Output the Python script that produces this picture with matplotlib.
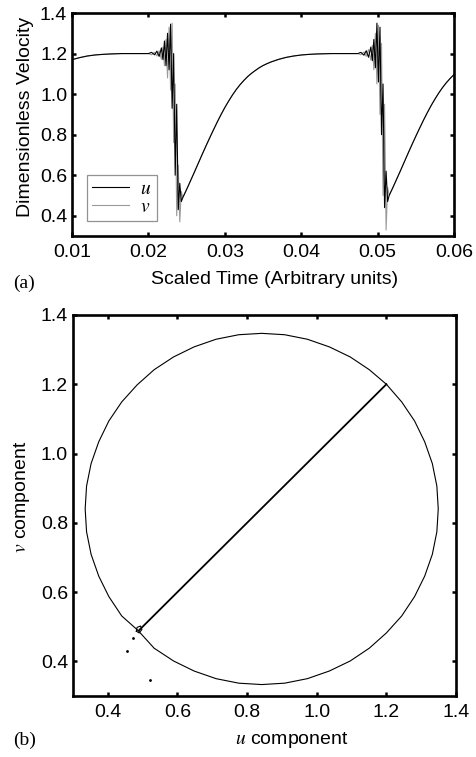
import numpy as np
import matplotlib.pyplot as plt

plt.rcParams['font.family'] = ['Liberation Sans', 'DejaVu Sans']
plt.rcParams['mathtext.fontset'] = 'stix'

# (a) velocity time series, u = v outside the bursts
t_start = [0.0100, 0.0110, 0.0120, 0.0130, 0.0140, 0.0150, 0.0165, 0.0180, 0.0195]
y_start = [1.170, 1.180, 1.188, 1.193, 1.196, 1.198, 1.200, 1.200, 1.200]

t_osc1 = [0.0200, 0.0204, 0.0208, 0.0211, 0.0214, 0.0217, 0.0219, 0.0221, 0.0223, 0.0225,
          0.0227, 0.0229, 0.0231, 0.0233, 0.0235, 0.0237, 0.0239, 0.0241, 0.0243]
u_osc1 = [1.200, 1.206, 1.194, 1.212, 1.186, 1.228, 1.170, 1.262, 1.140, 1.300,
          1.120, 1.345, 0.930, 1.200, 0.600, 0.950, 0.430, 0.560, 0.470]
v_osc1 = [1.200, 1.194, 1.206, 1.188, 1.214, 1.172, 1.232, 1.140, 1.270, 1.080,
          1.330, 1.020, 1.350, 0.760, 1.050, 0.400, 0.650, 0.370, 0.520]

t_rise1 = [0.0245, 0.0250, 0.0255, 0.0260, 0.0265, 0.0270, 0.0275, 0.0280, 0.0285,
           0.0290, 0.0295, 0.0300, 0.0305, 0.0310, 0.0315, 0.0320, 0.0325, 0.0330,
           0.0335, 0.0340, 0.0345, 0.0350, 0.0355, 0.0360, 0.0370, 0.0380, 0.0390,
           0.0400, 0.0410, 0.0420, 0.0440, 0.0472]
y_rise1 = [0.490, 0.530, 0.572, 0.614, 0.657, 0.700, 0.742, 0.783, 0.823,
           0.862, 0.899, 0.934, 0.966, 0.996, 1.023, 1.047, 1.068, 1.087,
           1.103, 1.117, 1.130, 1.141, 1.150, 1.158, 1.171, 1.181, 1.188,
           1.193, 1.196, 1.198, 1.200, 1.200]

t_osc2 = [0.0474, 0.0478, 0.0482, 0.0485, 0.0488, 0.0491, 0.0493, 0.0495, 0.0497,
          0.0499, 0.0501, 0.0503, 0.0505, 0.0507, 0.0509, 0.0511, 0.0513]
u_osc2 = [1.200, 1.206, 1.192, 1.214, 1.182, 1.232, 1.165, 1.270, 1.130,
          1.350, 1.060, 1.330, 0.800, 1.050, 0.440, 0.620, 0.470]
v_osc2 = [1.200, 1.194, 1.208, 1.186, 1.220, 1.168, 1.240, 1.120, 1.300,
          1.050, 1.340, 0.900, 1.250, 0.500, 0.950, 0.330, 0.540]

t_rise2 = [0.0515, 0.0520, 0.0525, 0.0530, 0.0535, 0.0540, 0.0545, 0.0550, 0.0555,
           0.0560, 0.0565, 0.0570, 0.0575, 0.0580, 0.0585, 0.0590, 0.0595, 0.0600]
y_rise2 = [0.500, 0.540, 0.582, 0.624, 0.667, 0.710, 0.752, 0.793, 0.833,
           0.872, 0.909, 0.944, 0.976, 1.006, 1.033, 1.057, 1.078, 1.097]

# (b) phase portrait, v against u
upper_u = [1.200, 1.151, 1.096, 1.036, 0.973, 0.908, 0.842, 0.776, 0.711, 0.648,
           0.589, 0.533, 0.484, 0.440, 0.403, 0.374, 0.352, 0.339, 0.335, 0.339,
           0.352, 0.374, 0.403, 0.440, 0.487]
upper_v = [1.200, 1.242, 1.279, 1.308, 1.330, 1.343, 1.347, 1.343, 1.330, 1.308,
           1.279, 1.242, 1.198, 1.149, 1.094, 1.034, 0.971, 0.906, 0.840, 0.774,
           0.709, 0.646, 0.587, 0.531, 0.489]
lower_u = [1.200, 1.244, 1.281, 1.310, 1.332, 1.345, 1.349, 1.345, 1.332, 1.310,
           1.281, 1.244, 1.200, 1.151, 1.096, 1.036, 0.973, 0.908, 0.842, 0.776,
           0.711, 0.648, 0.589, 0.533, 0.487]
lower_v = [1.200, 1.149, 1.094, 1.034, 0.971, 0.906, 0.840, 0.774, 0.709, 0.646,
           0.587, 0.531, 0.482, 0.438, 0.401, 0.372, 0.350, 0.337, 0.333, 0.337,
           0.350, 0.372, 0.401, 0.438, 0.489]
diag_u = [0.490, 1.200]
diag_v = [0.490, 1.200]
small_u = [0.482, 0.490, 0.498, 0.494, 0.484, 0.482]
small_v = [0.487, 0.482, 0.492, 0.502, 0.498, 0.487]
dots_u = [0.472, 0.456, 0.520]
dots_v = [0.467, 0.430, 0.345]

t_ticks = [0.01, 0.02, 0.03, 0.04, 0.05, 0.06]
vel_ticks = [0.4, 0.6, 0.8, 1.0, 1.2, 1.4]


def style_axes(ax):
    for s in ax.spines.values():
        s.set_linewidth(1.9)
    ax.tick_params(direction='in', top=True, right=True, length=3, width=1.8,
                   labelsize=14)
    ax.tick_params(axis='x', pad=6)
    ax.tick_params(axis='y', pad=3.5)


t = np.concatenate([t_start, t_osc1, t_rise1, t_osc2, t_rise2])
u = np.concatenate([y_start, u_osc1, y_rise1, u_osc2, y_rise2])
v = np.concatenate([y_start, v_osc1, y_rise1, v_osc2, y_rise2])

fig = plt.figure(figsize=(4.77, 7.57), dpi=100)

ax1 = fig.add_axes([0.151, 0.6882, 0.801, 0.2946])
ax1.plot(t, v, color='#9a9a9a', lw=0.8, label='$v$', zorder=2)
ax1.plot(t, u, color='black', lw=0.8, label='$u$', zorder=3)
ax1.set_xlim(0.01, 0.06)
ax1.set_ylim(0.3, 1.4)
ax1.set_xticks(t_ticks)
ax1.set_yticks(vel_ticks)
style_axes(ax1)
h, l = ax1.get_legend_handles_labels()
leg = ax1.legend(h[::-1], l[::-1], loc='lower left', bbox_to_anchor=(0.039, 0.067),
                 borderaxespad=0, fancybox=False, edgecolor='#777777', fontsize=14,
                 handlelength=1.9, handletextpad=0.6, labelspacing=0.05, borderpad=0.25)
leg.get_frame().set_linewidth(0.9)
ax1.set_xlabel('Scaled Time (Arbitrary units)', fontsize=14)
ax1.xaxis.set_label_coords(0.53, -0.197)
ax1.xaxis.label.set_va('center')
ax1.set_ylabel('Dimensionless Velocity', fontsize=14, va='center')
ax1.yaxis.set_label_coords(-0.122, 0.534)
fig.text(0.027, 1 - 283 / 757, '(a)', fontsize=14, family='Liberation Serif', va='center')

ax2 = fig.add_axes([0.153, 0.0806, 0.803, 0.5033])
ax2.plot(upper_u, upper_v, color='black', lw=0.8)
ax2.plot(lower_u, lower_v, color='black', lw=0.8)
ax2.plot(diag_u, diag_v, color='black', lw=1.3)
ax2.plot(small_u, small_v, color='black', lw=0.8)
ax2.plot(dots_u, dots_v, ls='none', marker='.', ms=2, color='black')
ax2.set_xlim(0.3, 1.4)
ax2.set_ylim(0.3, 1.4)
ax2.set_xticks(vel_ticks)
ax2.set_yticks(vel_ticks)
style_axes(ax2)
ax2.set_xlabel('$u$ component', fontsize=14)
ax2.xaxis.set_label_coords(0.572, -0.115)
ax2.xaxis.label.set_va('center')
ax2.set_ylabel('$v$ component', fontsize=14, va='center')
ax2.yaxis.set_label_coords(-0.134, 0.522)
fig.text(0.027, 1 - 740 / 757, '(b)', fontsize=14, family='Liberation Serif', va='center')

fig.savefig('out.png', dpi=100)
